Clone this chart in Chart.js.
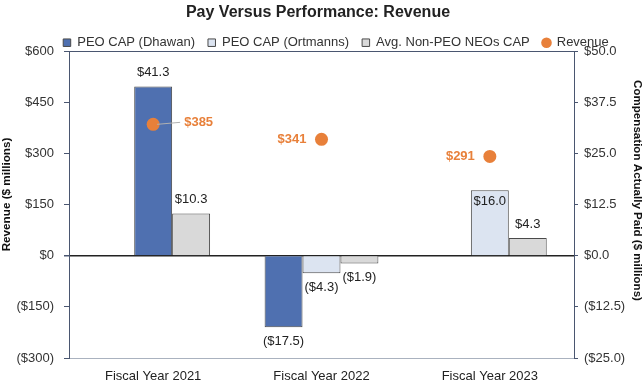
<!DOCTYPE html>
<html><head><meta charset="utf-8">
<script src="https://cdn.jsdelivr.net/npm/chart.js@4.4.1/dist/chart.umd.min.js"></script>
<style>html,body{margin:0;padding:0;background:#fff;} #wrap{width:644px;height:383px;position:relative;}</style>
</head><body><div id="wrap"><canvas id="c"></canvas></div>
<script>
// ---- data ----
const categories = ['Fiscal Year 2021', 'Fiscal Year 2022', 'Fiscal Year 2023'];
const capDhawan = [41.3, -17.5, null];
const capOrtmanns = [null, -4.3, 16.0];
const capNonPeo = [10.3, -1.9, 4.3];
const revenue = [385, 341, 291];
const revenueTicks = [-300, -150, 0, 150, 300, 450, 600];
const capTicks = [-25, -12.5, 0, 12.5, 25, 37.5, 50];
const seriesNames = ['PEO CAP (Dhawan)', 'PEO CAP (Ortmanns)', 'Avg. Non-PEO NEOs CAP', 'Revenue'];

// ---- styles ----
const BLUE = '#4F70B0', LIGHT = '#DCE4F1', GRAY = '#D9D9D9', ORANGE = '#E8803A';
const BORDER = '#4a4a4a', AXIS = '#4a5670';
const FONT = "'Liberation Sans', Arial, Helvetica, sans-serif";

// bar slots: slot A = Dhawan when both PEOs present; slot B = the other PEO bar
const slotA = categories.map((_, i) => (capDhawan[i] != null && capOrtmanns[i] != null) ? capDhawan[i] : null);
const slotB = categories.map((_, i) => capOrtmanns[i] != null ? capOrtmanns[i] : capDhawan[i]);
const slotBColors = categories.map((_, i) => capOrtmanns[i] != null ? LIGHT : BLUE);

const fmtRev = v => v < 0 ? '($' + (-v) + ')' : '$' + v;
const fmtCap = v => v < 0 ? '($' + (-v).toFixed(1) + ')' : '$' + v.toFixed(1);

function shiftDraw(obj, method, ctx, dx, dy) {
  if (!obj || obj['_shift_' + method]) return;
  const orig = obj[method];
  obj[method] = function () { ctx.save(); ctx.translate(dx, dy); orig.apply(this, arguments); ctx.restore(); };
  obj['_shift_' + method] = true;
}

const tweakPlugin = {
  id: 'tweakBoxes',
  afterInit(chart) {
    const leg = chart.legend;
    if (leg) {
      const f = leg.fit;
      leg.fit = function () { f.apply(this, arguments); this.height = 27.8; };
      shiftDraw(leg, 'draw', chart.ctx, 14, 0);
    }
    shiftDraw(chart.titleBlock, 'draw', chart.ctx, -4, 0);
  },
  afterLayout(chart) {
    shiftDraw(chart.scales.y, 'drawTitle', chart.ctx, 0, -10);
    shiftDraw(chart.scales.y2, 'drawTitle', chart.ctx, 0, -14);
  }
};

const labelPlugin = {
  id: 'valueLabels',
  afterDatasetsDraw(chart) {
    const ctx = chart.ctx;
    ctx.save();
    [0, 1, 2].forEach(di => {
      const meta = chart.getDatasetMeta(di);
      const data = chart.data.datasets[di].data;
      meta.data.forEach((el, i) => {
        const v = data[i];
        if (v == null) return;
        ctx.font = '13px ' + FONT;
        ctx.fillStyle = '#222';
        ctx.textAlign = 'center';
        ctx.textBaseline = 'middle';
        let y;
        const inside = (di === 1 && i === 2);
        if (inside) y = el.y + 11;
        else if (v >= 0) y = el.y - 14;
        else y = el.y + 14;
        ctx.fillText(fmtCap(v), el.x, y);
      });
    });
    const meta = chart.getDatasetMeta(3);
    meta.data.forEach((el, i) => {
      ctx.font = 'bold 13px ' + FONT;
      ctx.fillStyle = ORANGE;
      ctx.textBaseline = 'middle';
      const t = fmtRev(revenue[i]);
      if (i === 0) {
        ctx.strokeStyle = '#b0b0b0';
        ctx.lineWidth = 1;
        ctx.beginPath();
        ctx.moveTo(el.x + 4, el.y);
        ctx.lineTo(el.x + 27, el.y - 2);
        ctx.stroke();
        ctx.textAlign = 'left';
        ctx.fillText(t, el.x + 31, el.y - 2);
      } else {
        ctx.textAlign = 'right';
        ctx.fillText(t, el.x - 15, el.y);
      }
    });
    ctx.restore();
  }
};

new Chart(document.getElementById('c'), {
  data: {
    labels: categories,
    datasets: [
      { type: 'bar', label: seriesNames[0], data: slotA, backgroundColor: BLUE, borderColor: BORDER, borderWidth: 1, yAxisID: 'y2', order: 2, categoryPercentage: 0.676, barPercentage: 1 },
      { type: 'bar', label: seriesNames[1], data: slotB, backgroundColor: slotBColors, borderColor: BORDER, borderWidth: 1, yAxisID: 'y2', order: 2, categoryPercentage: 0.676, barPercentage: 1 },
      { type: 'bar', label: seriesNames[2], data: capNonPeo, backgroundColor: GRAY, borderColor: BORDER, borderWidth: 1, yAxisID: 'y2', order: 2, categoryPercentage: 0.676, barPercentage: 1 },
      { type: 'line', label: seriesNames[3], data: revenue, showLine: false, pointRadius: 6.5, pointHoverRadius: 6.5, pointBackgroundColor: ORANGE, pointBorderWidth: 0, yAxisID: 'y', order: 0 }
    ]
  },
  options: {
    responsive: true,
    maintainAspectRatio: false,
    animation: false,
    events: [],
    layout: { padding: { top: 0, left: 0, right: 0, bottom: 0 } },
    plugins: {
      tooltip: { enabled: false },
      title: {
        display: true, text: 'Pay Versus Performance: Revenue', color: '#222',
        font: { family: FONT, size: 16, weight: 'bold' }, padding: { top: 2.5, bottom: 1.5 }
      },
      legend: {
        display: true, position: 'top',
        labels: {
          color: '#333', font: { family: FONT, size: 13 }, usePointStyle: true,
          boxWidth: 7.5, boxHeight: 7.5, padding: 13,
          generateLabels: () => [
            { text: seriesNames[0], fillStyle: BLUE, strokeStyle: BORDER, lineWidth: 1, pointStyle: 'rect', hidden: false, fontColor: '#333' },
            { text: seriesNames[1], fillStyle: LIGHT, strokeStyle: BORDER, lineWidth: 1, pointStyle: 'rect', hidden: false, fontColor: '#333' },
            { text: seriesNames[2], fillStyle: GRAY, strokeStyle: BORDER, lineWidth: 1, pointStyle: 'rect', hidden: false, fontColor: '#333' },
            { text: seriesNames[3], fillStyle: ORANGE, strokeStyle: ORANGE, lineWidth: 0, pointStyle: 'circle', hidden: false, fontColor: '#333' }
          ]
        }
      }
    },
    scales: {
      x: {
        grid: { display: false },
        border: { color: '#aab2bf', width: 1 },
        ticks: { color: '#222', font: { family: FONT, size: 13 }, padding: 3 },
        afterFit: s => { s.height = 25; }
      },
      y: {
        position: 'left', min: -300, max: 600,
        afterBuildTicks: s => { s.ticks = revenueTicks.map(v => ({ value: v })); },
        grid: {
          drawOnChartArea: true, drawTicks: true, tickLength: 5, tickColor: AXIS,
          color: c => c.tick && c.tick.value === 0 ? '#222' : (c.tick && c.tick.value === 600 ? AXIS : 'rgba(0,0,0,0)'),
          lineWidth: c => c.tick && c.tick.value === 0 ? 1.5 : 1
        },
        border: { color: AXIS, width: 1 },
        ticks: { color: '#333', font: { family: FONT, size: 13 }, padding: 10, callback: v => fmtRev(v) },
        title: { display: true, text: 'Revenue ($ millions)', color: '#111', font: { family: FONT, size: 11.7, weight: 'bold' }, padding: 0 },
        afterFit: s => { s.width = 69; }
      },
      y2: {
        position: 'right', min: -25, max: 50,
        afterBuildTicks: s => { s.ticks = capTicks.map(v => ({ value: v })); },
        grid: { drawOnChartArea: false, drawTicks: true, tickLength: 4, tickColor: AXIS },
        border: { color: AXIS, width: 1 },
        ticks: { color: '#333', font: { family: FONT, size: 13 }, padding: 6, callback: v => fmtCap(v) },
        title: { display: true, text: 'Compensation Actually Paid ($ millions)', color: '#111', font: { family: FONT, size: 11.6, weight: 'bold' }, padding: 0 },
        afterFit: s => { s.width = 70; }
      }
    }
  },
  plugins: [tweakPlugin, labelPlugin]
});
</script>
</body></html>
